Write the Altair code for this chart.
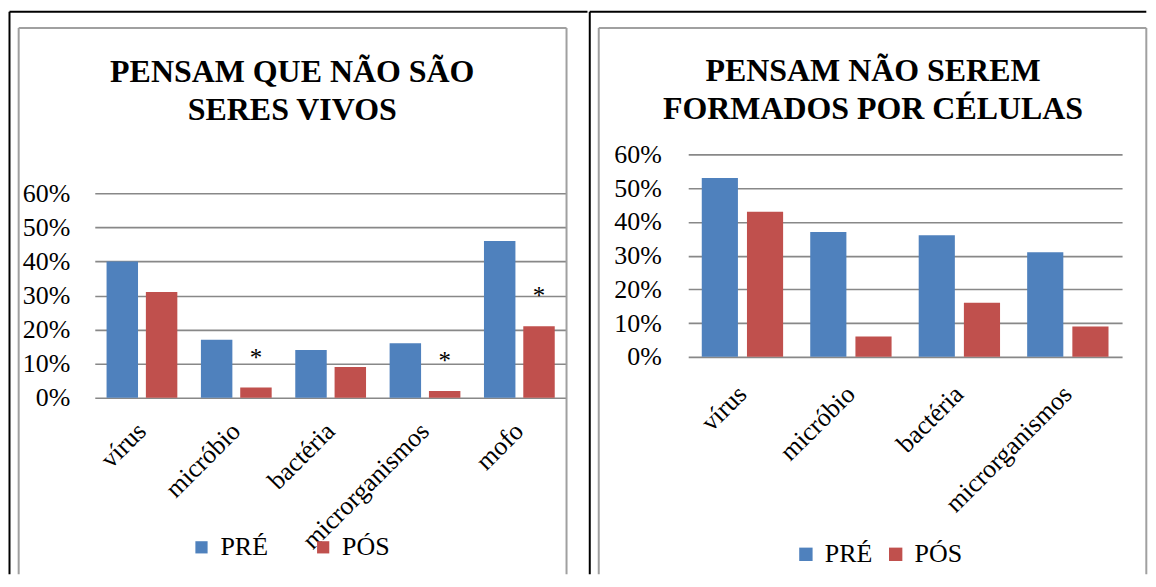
import altair as alt
import pandas as pd

# ---------------- data ----------------
categorias_1 = ["vírus", "micróbio", "bactéria", "microrganismos", "mofo"]
pre_1 = [40, 17, 14, 16, 46]
pos_1 = [31, 3, 9, 2, 21]
marca_1 = ["", "*", "", "*", "*"]

categorias_2 = ["vírus", "micróbio", "bactéria", "microrganismos"]
pre_2 = [53, 37, 36, 31]
pos_2 = [43, 6, 16, 9]
marca_2 = ["", "", "", ""]

series = ["PRÉ", "PÓS"]
cores = ["#4F81BD", "#C0504D"]
titulo_1 = ["PENSAM QUE NÃO SÃO", "SERES VIVOS"]
titulo_2 = ["PENSAM NÃO SEREM", "FORMADOS POR CÉLULAS"]
ticks_y = [0, 0.1, 0.2, 0.3, 0.4, 0.5, 0.6]

FONT = "Liberation Serif"
GRID = "#888888"
FRAME = "#A0A0A0"


def painel(cats, pre, pos, marcas, titulo, W, H, g):
    n = len(cats)
    df = pd.DataFrame({
        "cat": cats + cats,
        "serie": [series[0]] * n + [series[1]] * n,
        "val": [v / 100 for v in pre + pos],
    })
    df_star = pd.DataFrame({
        "cat": [c for c, m in zip(cats, marcas) if m],
        "serie": [series[1] for m in marcas if m],
        "val": [v / 100 for v, m in zip(pos, marcas) if m],
        "star": [m for m in marcas if m],
    })

    x = alt.X("cat:N", sort=cats,
              scale=alt.Scale(domain=cats, paddingInner=0.25, paddingOuter=0.125),
              axis=alt.Axis(title=None, labelAngle=-45, labelAlign="right",
                            labelBaseline="middle", labelFont=FONT, labelFontSize=26,
                            labelColor="black", labelPadding=g["xlp"], ticks=False,
                            domain=False, labelLimit=400, labelOverlap=False))
    y = alt.Y("val:Q",
              scale=alt.Scale(domain=[0, 0.6], nice=False, zero=True, range=g["yr"]),
              axis=alt.Axis(values=ticks_y, format=".0%", title=None, ticks=False,
                            domain=False, labelPadding=g["ylp"], labelFont=FONT,
                            labelFontSize=26, labelColor="black",
                            gridColor=GRID, gridWidth=1.6))
    xo = alt.XOffset("serie:N", sort=series,
                     scale=alt.Scale(domain=series, paddingInner=0.2, paddingOuter=0))

    bars = alt.Chart(df).mark_bar().encode(
        x=x, xOffset=xo, y=y,
        color=alt.Color("serie:N", sort=series,
                        scale=alt.Scale(domain=series, range=cores),
                        legend=alt.Legend(title=None, orient="none",
                                          legendX=g["lx"], legendY=g["ly"],
                                          direction="horizontal", symbolType="square",
                                          symbolSize=g["ss"], symbolStrokeWidth=0,
                                          labelFont=FONT, labelFontSize=26,
                                          labelColor="black", labelOffset=6,
                                          columnPadding=g["cp"], padding=0)),
    )
    layers = [bars]
    if len(df_star):
        stars = alt.Chart(df_star).mark_text(
            font=FONT, fontSize=25, color="black", baseline="alphabetic", dy=-22
        ).encode(x=x, xOffset=xo, y=y, text="star:N")
        layers.append(stars)

    dummy = pd.DataFrame({"d": [0]})

    def vline(xv, y1, y2, color, w):
        return alt.Chart(dummy).mark_rule(color=color, strokeWidth=w).encode(
            x=alt.value(xv), y=alt.value(y1), y2=alt.value(y2))

    def hline(yv, x1, x2, color, w):
        return alt.Chart(dummy).mark_rule(color=color, strokeWidth=w).encode(
            y=alt.value(yv), x=alt.value(x1), x2=alt.value(x2))

    for (xv, y1, y2) in g["black_v"]:
        layers.append(vline(xv, y1, y2, "black", 2))
    bx1, bx2, by = g["black_top"]
    layers.append(hline(by, bx1, bx2, "black", 2))
    fx1, fx2, fy, fb = g["frame"]
    layers.append(vline(fx1, fy, fb, FRAME, 2))
    layers.append(vline(fx2, fy, fb, FRAME, 2))
    layers.append(hline(fy, fx1, fx2, FRAME, 2))

    tx, ty = g["title"]
    layers.append(
        alt.Chart(dummy).mark_text(
            text=titulo, font=FONT, fontSize=32, fontWeight="bold", color="black",
            align="center", baseline="alphabetic", lineHeight=39,
        ).encode(x=alt.value(tx), y=alt.value(ty))
    )

    return alt.layer(*layers).properties(width=W, height=H)


# both panels share the same plot origin row (page y = 193)
g1 = dict(xlp=29, ylp=25, lx=94, ly=342, ss=150, cp=42, yr=[205, 0],
          black_v=[(-85.5, -182, 382)], black_top=(-85.5, 494, -182),
          frame=(-76.3, 473, -165.7, 382), title=(198, -112))
g2 = dict(xlp=33, ylp=27, lx=105, ly=349, ss=180, cp=10, yr=[164, -39],
          black_v=[(-98.7, -182, 382)], black_top=(-98.7, 459.3, -182),
          frame=(-89.7, 459.3, -165.7, 382), title=(185.3, -113))

left = painel(categorias_1, pre_1, pos_1, marca_1, titulo_1, 473, 205, g1)
right = painel(categorias_2, pre_2, pos_2, marca_2, titulo_2, 435, 164, g2)

chart = alt.hconcat(left, right, spacing=0).resolve_scale(
    color="independent", x="independent", y="independent", xOffset="independent"
).resolve_legend(color="independent").properties(
    padding={"top": 2, "left": 0, "right": 0, "bottom": 0},
    background="white",
).configure_view(stroke=None).configure_legend(labelFont=FONT)

chart.save("out.html", embed_options={"renderer": "svg", "actions": False})
